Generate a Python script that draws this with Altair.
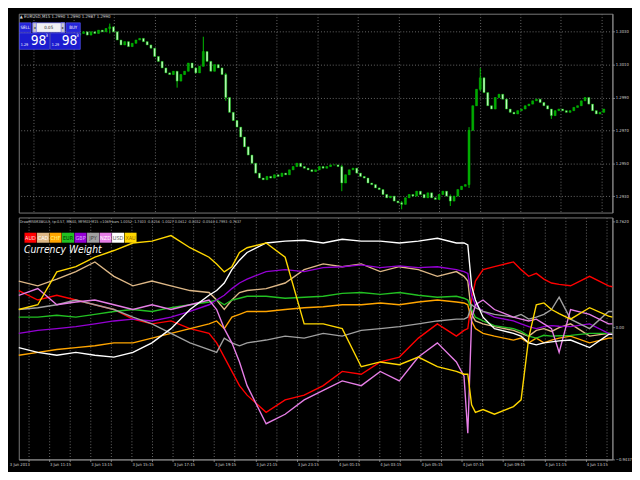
import altair as alt
import pandas as pd

# ---------------- top panel: M15 price candles ----------------
FIRST_BAR = 15
FIRST_OPEN = 1.3028
CLOSES = [
    1.3029, 1.3030, 1.3028, 1.3030, 1.3029, 1.3031, 1.3030, 1.3032, 1.3033, 1.3030,
    1.3025, 1.3022, 1.3024, 1.3021, 1.3023, 1.3025, 1.3026, 1.3024, 1.3022, 1.3020,
    1.3015, 1.3012, 1.3008, 1.3005, 1.3004, 1.3006, 1.3000, 1.3004, 1.3006, 1.3011,
    1.3008, 1.3005, 1.3009, 1.3018, 1.3012, 1.3006, 1.3010, 1.3008, 1.3004, 1.2990,
    1.2981, 1.2976, 1.2972, 1.2966, 1.2960, 1.2955, 1.2950, 1.2944, 1.2941, 1.2940,
    1.2942, 1.2941, 1.2943, 1.2942, 1.2944, 1.2943, 1.2946, 1.2948, 1.2950, 1.2948,
    1.2947, 1.2946, 1.2945, 1.2946, 1.2948, 1.2947, 1.2948, 1.2949, 1.2949, 1.2948,
    1.2938, 1.2943, 1.2946, 1.2947, 1.2944, 1.2942, 1.2941, 1.2938, 1.2937, 1.2935,
    1.2934, 1.2931, 1.2929, 1.2930, 1.2927, 1.2926, 1.2925, 1.2929, 1.2931, 1.2930,
    1.2933, 1.2931, 1.2929, 1.2932, 1.2929, 1.2928, 1.2931, 1.2933, 1.2930, 1.2927,
    1.2930, 1.2934, 1.2936, 1.2937, 1.2970, 1.2985, 1.2995, 1.3002, 1.2993, 1.2985,
    1.2983, 1.2990, 1.2992, 1.2989, 1.2983, 1.2981, 1.2980, 1.2982, 1.2983, 1.2985,
    1.2986, 1.2988, 1.2989, 1.2987, 1.2985, 1.2983, 1.2979, 1.2982, 1.2983, 1.2982,
    1.2981, 1.2982, 1.2984, 1.2985, 1.2988, 1.2990, 1.2986, 1.2982, 1.2980, 1.2981,
    1.2983,
]
# candles whose wicks reach beyond the body: index -> (low, high)
WICKS = {
    8: (1.3029, 1.3035), 26: (1.2996, 1.3006), 33: (1.3009, 1.3027),
    39: (1.2988, 1.3005), 70: (1.2933, 1.2949), 86: (1.2922, 1.2927),
    99: (1.2924, 1.2931), 104: (1.2935, 1.2972), 107: (1.2994, 1.3008),
    126: (1.2977, 1.2983),
}
PRICE_TICKS = [1.2930, 1.2940, 1.2950, 1.2960, 1.2970, 1.2980,
               1.2990, 1.3000, 1.3010, 1.3020, 1.3030, 1.3040]

# ---------------- bottom panel: currency weight lines ----------------
X_BARS = [0, 5, 10, 15, 20, 25, 30, 35, 40, 45, 50, 52, 54, 56, 58, 60, 65, 70, 75, 80,
          85, 90, 95, 100, 105, 110, 115, 117, 118, 119, 120, 122, 125, 130, 132, 134,
          136, 138, 140, 142, 145, 150, 155, 156]
AUD = [0.266, 0.198, 0.232, 0.198, 0.164, 0.13, 0.061, 0.027, 0.048, -0.007,
       -0.041, -0.109, -0.211, -0.314, -0.416, -0.484, -0.607, -0.518, -0.484, -0.416,
       -0.314, -0.334, -0.246, -0.211, -0.075, 0.027, -0.061, -0.02, -0.007, 0.198,
       0.334, 0.416, 0.437, 0.471, 0.416, 0.368, 0.389, 0.348, 0.32, 0.31,
       0.30, 0.368, 0.30, 0.293]
CAD = [0.334, 0.30, 0.348, 0.402, 0.471, 0.368, 0.30, 0.334, 0.30, 0.266,
       0.252, 0.198, 0.13, 0.198, 0.252, 0.266, 0.28, 0.32, 0.416, 0.457,
       0.437, 0.457, 0.402, 0.437, 0.416, 0.368, 0.402, 0.368, 0.334, 0.095,
       0.048, 0.027, 0.007, -0.02, -0.041, -0.061, -0.02, -0.007, -0.027, 0.0,
       0.027, -0.061, -0.041, -0.041]
CHF = [-0.198, -0.177, -0.157, -0.143, -0.13, -0.109, -0.109, -0.075, -0.041, -0.007,
       0.027, 0.048, -0.007, 0.075, 0.095, 0.116, 0.116, 0.13, 0.143, 0.15,
       0.164, 0.164, 0.177, 0.164, 0.184, 0.198, 0.184, 0.177, 0.164, 0.048,
       -0.007, -0.041, -0.061, -0.089, -0.075, -0.109, -0.075, -0.109, -0.089, -0.075,
       -0.061, -0.109, -0.075, -0.075]
EUR = [0.075, 0.075, 0.089, 0.075, 0.095, 0.116, 0.13, 0.116, 0.143, 0.164,
       0.184, 0.198, 0.164, 0.198, 0.211, 0.225, 0.225, 0.211, 0.218, 0.225,
       0.246, 0.252, 0.239, 0.252, 0.232, 0.218, 0.225, 0.211, 0.198, 0.13,
       0.075, 0.048, 0.014, -0.007, -0.027, -0.061, -0.075, -0.055, -0.061, -0.058,
       -0.055, -0.041, -0.041, -0.041]
GBP = [-0.041, -0.02, -0.007, 0.007, 0.027, 0.048, 0.061, 0.048, 0.075, 0.116,
       0.164, 0.198, 0.232, 0.28, 0.32, 0.348, 0.402, 0.416, 0.402, 0.43,
       0.437, 0.45, 0.43, 0.443, 0.43, 0.437, 0.416, 0.402, 0.389, 0.232,
       0.164, 0.116, 0.075, 0.048, 0.027, 0.007, -0.007, 0.007, 0.014, 0.01,
       0.007, 0.027, -0.041, -0.048]
JPY = [0.13, 0.143, 0.164, 0.198, 0.164, 0.13, 0.075, 0.027, -0.041, -0.109,
       -0.157, -0.177, -0.075, -0.109, -0.13, -0.109, -0.089, -0.061, -0.075, -0.041,
       -0.061, -0.02, -0.007, 0.007, 0.027, 0.048, 0.061, 0.061, 0.075, 0.164,
       0.143, 0.116, 0.095, 0.075, 0.095, 0.061, 0.075, 0.095, 0.13, 0.218,
       0.061, -0.007, 0.116, 0.116]
NZD = [0.232, 0.28, 0.164, 0.184, 0.198, 0.164, 0.13, 0.164, 0.13, 0.164,
       0.198, 0.13, -0.007, -0.109, -0.246, -0.416, -0.689, -0.621, -0.518, -0.45,
       -0.382, -0.416, -0.314, -0.382, -0.211, -0.109, -0.246, -0.348, -0.757, 0.061,
       0.164, 0.198, 0.13, 0.075, 0.061, 0.048, 0.061, 0.027, -0.007, -0.177,
       0.13, 0.095, 0.027, 0.027]
USD = [-0.143, -0.177, -0.198, -0.177, -0.198, -0.211, -0.177, -0.109, -0.007, 0.13,
       0.232, 0.266, 0.32, 0.416, 0.484, 0.539, 0.607, 0.62, 0.627, 0.607,
       0.634, 0.62, 0.62, 0.607, 0.62, 0.641, 0.607, 0.607, 0.593, 0.30,
       0.198, 0.075, -0.007, -0.041, -0.061, -0.109, -0.123, -0.109, -0.102, -0.095,
       -0.089, -0.143, -0.048, -0.048]
XAU = [0.13, 0.164, 0.40, 0.437, 0.505, 0.553, 0.607, 0.62, 0.66, 0.573,
       0.505, 0.457, 0.40, 0.437, 0.539, 0.573, 0.607, 0.505, 0.027, 0.027,
       -0.007, -0.28, -0.246, -0.266, -0.211, -0.28, -0.314, -0.334, -0.334, -0.553,
       -0.607, -0.587, -0.621, -0.566, -0.518, -0.075, 0.164, 0.177, 0.13, 0.10,
       0.061, 0.143, 0.082, 0.075]

CURRENCIES = ["AUD", "CAD", "CHF", "EUR", "GBP", "JPY", "NZD", "USD", "XAU"]
SERIES = [AUD, CAD, CHF, EUR, GBP, JPY, NZD, USD, XAU]
COLORS = ["#ff0000", "#deb887", "#ffa500", "#22c022", "#9400d3",
          "#a0a0a0", "#e67ee6", "#ffffff", "#ffd700"]
LEGEND_TEXT = ["#ffd8d8", "#ffffff", "#ffff90", "#003300", "#dcaaff",
               "#404040", "#ffffff", "#606060", "#a07000"]
W_TICKS = [0.762, 0.0, -0.9437]

TIME_LABELS = ["3 Jun 2013"] + ["3 Jun %02d:15" % h for h in range(10, 24)] + \
              ["4 Jun %02d:15" % h for h in range(0, 14)]

TOP_HEADER = "\u25b2 EURUSD,M15  1.2990 1.2990 1.2987 1.2990"
LOW_HEADER = ("DrawMFAM3WOLS, tp:0.57, MN40, MFM03  M15 =1069 bars  1.0052 -1.7403 "
              "-0.0256 -1.0027 0.0612 -0.0032 -0.0544 4.7993 -0.7637")

# ---------------- layout ----------------
W, H1, H2 = 606, 203, 247
SX, SY1, SY2 = W / 624.0, H1 / 208.0, H2 / 254.0
N_BARS = 156
GRID_X = [2.5 + 5.425 * k for k in range(29)]
FONT = "Liberation Sans Narrow, DejaVu Sans Condensed, Liberation Sans"

x_scale = alt.Scale(domain=[0, N_BARS], nice=False, zero=False)

# candle table
opens = [FIRST_OPEN] + CLOSES[:-1]
crow = []
for i, (o, c) in enumerate(zip(opens, CLOSES)):
    lo, hi = WICKS.get(i, (min(o, c), max(o, c)))
    crow.append({"bar": FIRST_BAR + i, "open": o, "close": c, "low": lo, "high": hi,
                 "dir": "up" if c >= o else "down"})
cdf = pd.DataFrame(crow)

top_x = alt.X("bar:Q", scale=x_scale,
              axis=alt.Axis(values=GRID_X, labels=False, ticks=False, domain=False,
                            grid=True, title=None))
top_y_scale = alt.Scale(domain=[1.2920, 1.3041], nice=False, zero=False)

wicks = alt.Chart(cdf).mark_rule(color="#00c000", strokeWidth=1).encode(
    x=top_x,
    y=alt.Y("low:Q", scale=top_y_scale,
            axis=alt.Axis(orient="right", values=PRICE_TICKS, format=".4f", title=None,
                          grid=True, tickSize=2, labelPadding=1)),
    y2="high:Q",
)
bodies = alt.Chart(cdf).mark_bar(width=2, stroke="#00c000", strokeWidth=0.5).encode(
    x=alt.X("bar:Q", scale=x_scale),
    y=alt.Y("open:Q", scale=top_y_scale),
    y2="close:Q",
    fill=alt.Fill("dir:N", scale=alt.Scale(domain=["up", "down"],
                                           range=["#00a800", "#c8ffc8"]), legend=None),
)

# trade panel (top-left)
def rx(v):
    return (v - 2) * SX

def ry1(v):
    return (v - 2) * SY1

panel_rects = pd.DataFrame([
    {"x": rx(2.7), "x2": rx(15), "y": ry1(11.5), "y2": ry1(21.5), "f": "#2424d8"},
    {"x": rx(16.7), "x2": rx(50.3), "y": ry1(11.5), "y2": ry1(21.5), "f": "#f2f2f2"},
    {"x": rx(16.7), "x2": rx(20.5), "y": ry1(11.5), "y2": ry1(21.5), "f": "#c8c8c8"},
    {"x": rx(46.5), "x2": rx(50.3), "y": ry1(11.5), "y2": ry1(21.5), "f": "#c8c8c8"},
    {"x": rx(51.7), "x2": rx(66.7), "y": ry1(11.5), "y2": ry1(21.5), "f": "#2424d8"},
    {"x": rx(2.7), "x2": rx(34.3), "y": ry1(22.3), "y2": ry1(39.3), "f": "#1c1cd0"},
    {"x": rx(35.3), "x2": rx(66.7), "y": ry1(22.3), "y2": ry1(39.3), "f": "#1c1cd0"},
])
prect = alt.Chart(panel_rects).mark_rect(stroke="#5a5aff", strokeWidth=0.6).encode(
    x=alt.X("x:Q", scale=None), x2="x2:Q",
    y=alt.Y("y:Q", scale=None), y2="y2:Q",
    fill=alt.Fill("f:N", scale=None),
)
panel_small = pd.DataFrame([
    {"x": rx(8.8), "y": ry1(16.5), "t": "SELL", "c": "#ffffff", "s": 4.5},
    {"x": rx(33.5), "y": ry1(16.5), "t": "0.05", "c": "#202020", "s": 4.5},
    {"x": rx(18.6), "y": ry1(16.5), "t": "\u25c2", "c": "#202020", "s": 4},
    {"x": rx(48.4), "y": ry1(16.5), "t": "\u25b8", "c": "#202020", "s": 4},
    {"x": rx(59.2), "y": ry1(16.5), "t": "BUY", "c": "#ffffff", "s": 4.5},
    {"x": rx(8.0), "y": ry1(34.5), "t": "1.29", "c": "#ffffff", "s": 3.8},
    {"x": rx(31.3), "y": ry1(25.5), "t": "3", "c": "#ffffff", "s": 4.5},
    {"x": rx(40.6), "y": ry1(34.5), "t": "1.29", "c": "#ffffff", "s": 3.8},
    {"x": rx(63.8), "y": ry1(25.5), "t": "3", "c": "#ffffff", "s": 4.5},
])
psmall = alt.Chart(panel_small).mark_text(font=FONT, baseline="middle").encode(
    x=alt.X("x:Q", scale=None), y=alt.Y("y:Q", scale=None), text="t:N",
    color=alt.Color("c:N", scale=None), size=alt.Size("s:Q", scale=None),
)
panel_big = pd.DataFrame([
    {"x": rx(22.8), "y": ry1(31), "t": "98"},
    {"x": rx(55.3), "y": ry1(31), "t": "98"},
])
pbig = alt.Chart(panel_big).mark_text(font=FONT, fontSize=14, color="#ffffff",
                                      baseline="middle").encode(
    x=alt.X("x:Q", scale=None), y=alt.Y("y:Q", scale=None), text="t:N",
)
top_head = alt.Chart(pd.DataFrame([{"x": 1.0, "y": 3.5, "t": TOP_HEADER}])).mark_text(
    font=FONT, fontSize=4.5, color="#d8d8d8", align="left", baseline="middle").encode(
    x=alt.X("x:Q", scale=None), y=alt.Y("y:Q", scale=None), text="t:N")

top = alt.layer(wicks, bodies, prect, psmall, pbig, top_head).properties(width=W, height=H1)

# ---------------- bottom panel ----------------
lrows = []
for cur, vals in zip(CURRENCIES, SERIES):
    for b, v in zip(X_BARS, vals):
        lrows.append({"bar": b, "value": v, "cur": cur})
ldf = pd.DataFrame(lrows)

label_arr = "[" + ",".join("'%s'" % s for s in TIME_LABELS) + "]"
lines = alt.Chart(ldf).mark_line(strokeWidth=1.4).encode(
    x=alt.X("bar:Q", scale=x_scale,
            axis=alt.Axis(values=GRID_X, grid=True, title=None, tickSize=2,
                          labelAlign="right", labelOffset=1, labelPadding=1,
                          labelExpr=label_arr + "[round((datum.value-2.5)/5.425)]")),
    y=alt.Y("value:Q", scale=alt.Scale(domain=[-0.945, 0.79], nice=False, zero=False),
            axis=alt.Axis(orient="right", values=W_TICKS, grid=False, title=None,
                          tickSize=2, labelPadding=1,
                          labelExpr="datum.value == 0 ? '0.00' : format(datum.value, '.4f')")),
    stroke=alt.Stroke("cur:N", scale=alt.Scale(domain=CURRENCIES, range=COLORS), legend=None),
    order="bar:Q",
)

def ry2(v):
    return (v - 213) * SY2

leg = pd.DataFrame([
    {"cur": c, "x": rx(8) + i * 13.15 * SX, "x2": rx(8) + i * 13.15 * SX + 12.6 * SX,
     "y": ry2(229), "y2": ry2(239.5), "tx": rx(8) + i * 13.15 * SX + 6.3 * SX,
     "ty": ry2(234.5), "tc": tc, "fc": fc}
    for i, (c, fc, tc) in enumerate(zip(CURRENCIES, COLORS, LEGEND_TEXT))
])
leg_box = alt.Chart(leg).mark_rect().encode(
    x=alt.X("x:Q", scale=None), x2="x2:Q", y=alt.Y("y:Q", scale=None), y2="y2:Q",
    fill=alt.Fill("fc:N", scale=None))
leg_txt = alt.Chart(leg).mark_text(font=FONT, fontSize=5.6, baseline="middle").encode(
    x=alt.X("tx:Q", scale=None), y=alt.Y("ty:Q", scale=None), text="cur:N",
    color=alt.Color("tc:N", scale=None))
title_txt = alt.Chart(pd.DataFrame([{"x": rx(7.5), "y": ry2(247.5), "t": "Currency Weight"}])).mark_text(
    font=FONT, fontSize=10.5, fontStyle="italic", color="#ffffff", align="left",
    baseline="middle").encode(
    x=alt.X("x:Q", scale=None), y=alt.Y("y:Q", scale=None), text="t:N")
low_head = alt.Chart(pd.DataFrame([{"x": 1.0, "y": ry2(217.5), "t": LOW_HEADER}])).mark_text(
    font=FONT, fontSize=3.8, color="#c8c8c8", align="left", baseline="middle").encode(
    x=alt.X("x:Q", scale=None), y=alt.Y("y:Q", scale=None), text="t:N")

bottom = alt.layer(lines, leg_box, leg_txt, title_txt, low_head).properties(width=W, height=H2)

chart = alt.vconcat(top, bottom, spacing=3).resolve_scale(
    color="independent", fill="independent", stroke="independent"
).configure(
    background="#000000", padding=0
).configure_view(stroke="#7a7a7a", strokeWidth=1).configure_axis(
    gridColor="#6a6a6a", gridDash=[1, 2], gridWidth=1, gridOpacity=1,
    labelColor="#d0d0d0", labelFont=FONT, labelFontSize=4.2,
    domainColor="#8a8a8a", tickColor="#8a8a8a",
)

chart.save("out.html", embed_options={"renderer": "svg", "actions": False})
